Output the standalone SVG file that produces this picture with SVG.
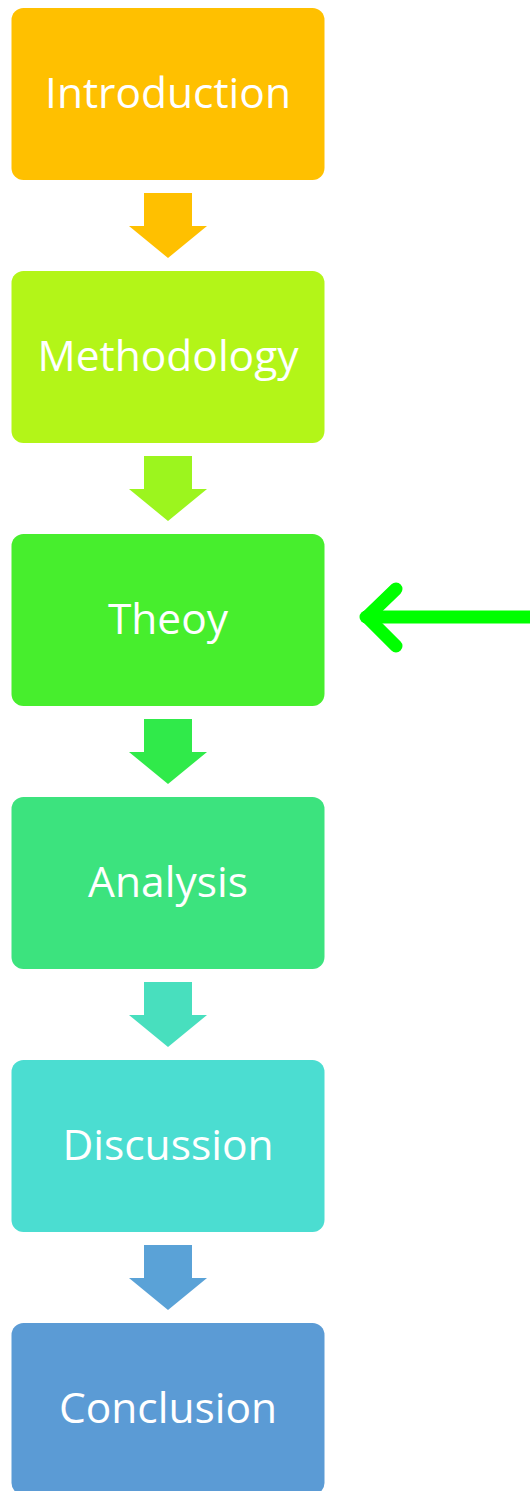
<svg xmlns="http://www.w3.org/2000/svg" width="530" height="1491" viewBox="0 0 530 1491">
<style>
.box{stroke:none}
.lbl{font-family:"Open Sans","Liberation Sans",sans-serif;font-size:42.5px;fill:#ffffff;text-anchor:middle}
</style>
<defs>
<path id="blk" d="M144,0 H192 V33 H207 L168,65 L129,33 H144 Z"/>
</defs>
<rect width="530" height="1491" fill="#ffffff"/>
<g id="n1"><rect class="box" x="11.5" y="8" width="313" height="172" rx="12" fill="#FFC000"/><text class="lbl" x="168" y="108">Introduction</text></g>
<g id="n2"><rect class="box" x="11.5" y="271" width="313" height="172" rx="12" fill="#B3F518"/><text class="lbl" x="168" y="371">Methodology</text></g>
<g id="n3"><rect class="box" x="11.5" y="534" width="313" height="172" rx="12" fill="#47EE2D"/><text class="lbl" x="168" y="634">Theoy</text></g>
<g id="n4"><rect class="box" x="11.5" y="797" width="313" height="172" rx="12" fill="#3CE37E"/><text class="lbl" x="168" y="897">Analysis</text></g>
<g id="n5"><rect class="box" x="11.5" y="1060" width="313" height="172" rx="12" fill="#4BDDD1"/><text class="lbl" x="168" y="1160">Discussion</text></g>
<g id="n6"><rect class="box" x="11.5" y="1323" width="313" height="172" rx="12" fill="#5B9BD5"/><text class="lbl" x="168" y="1423">Conclusion</text></g>
<g id="connectors">
<use href="#blk" y="193" fill="#FFC000"/>
<use href="#blk" y="456" fill="#9CF51E"/>
<use href="#blk" y="719" fill="#30EA4A"/>
<use href="#blk" y="982" fill="#48DFBE"/>
<use href="#blk" y="1245" fill="#5AA2D7"/>
<g fill="none" stroke="#00FF00" stroke-width="13" stroke-linecap="round" stroke-linejoin="round">
<line x1="530" y1="617" x2="366" y2="617"/>
<polyline points="396,589 367,617 396,646"/>
</g>
</g>
</svg>
